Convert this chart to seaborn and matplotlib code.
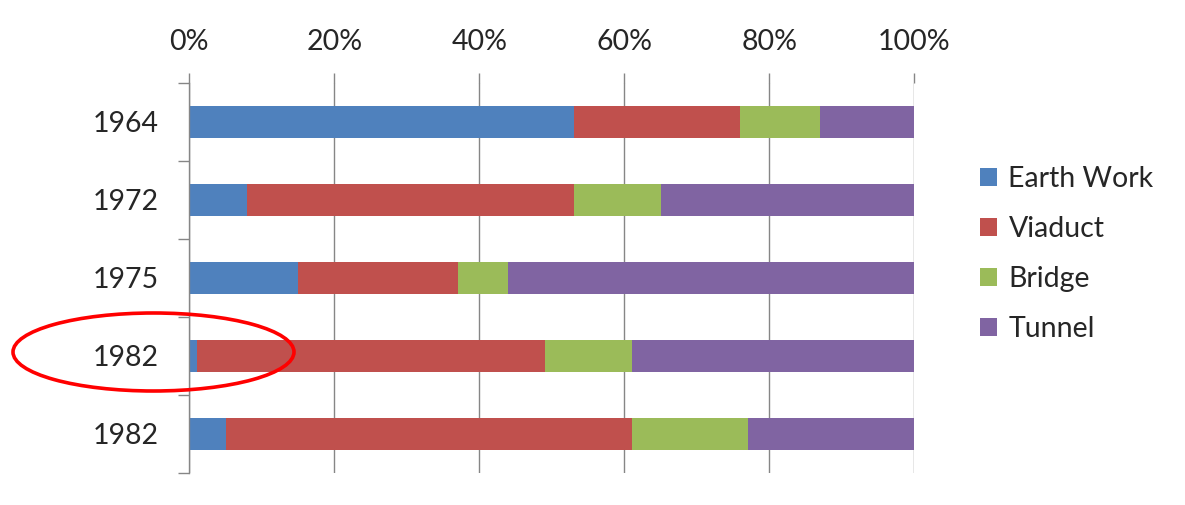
import matplotlib
matplotlib.use("Agg")
import matplotlib.pyplot as plt
from matplotlib.patches import Ellipse, Patch
from matplotlib.ticker import PercentFormatter, FixedLocator
import seaborn as sns
import pandas as pd
import numpy as np

# ---- data ----
year_keys = ["1964", "1972", "1975", "1982a", "1982b"]
year_labels = ["1964", "1972", "1975", "1982", "1982"]
series_names = ["Earth Work", "Viaduct", "Bridge", "Tunnel"]
earth_work = [53, 8, 15, 1, 5]
viaduct = [23, 45, 22, 48, 56]
bridge = [11, 12, 7, 12, 16]
tunnel = [13, 35, 56, 39, 23]
x_ticks = [0, 20, 40, 60, 80, 100]

colors = ["#4F81BD", "#C0504D", "#9BBB59", "#8064A2"]

sns.set_style("white")
plt.rcParams["font.family"] = ["Lato", "DejaVu Sans"]
FS = 20.5

df = pd.DataFrame({"year": year_keys, "Earth Work": earth_work, "Viaduct": viaduct,
                   "Bridge": bridge, "Tunnel": tunnel})
cum = df[series_names].cumsum(axis=1)

fig = plt.figure(figsize=(11.85, 5.05), dpi=100)
ax = fig.add_axes([189.3 / 1185, 1 - 473 / 505, 725 / 1185, 390 / 505])

for name, col in reversed(list(zip(series_names, colors))):
    sns.barplot(x=cum[name], y=df["year"], order=year_keys, orient="h", color=col,
                width=0.4, linewidth=0, edgecolor="none", saturation=1, ax=ax)

ax.set_xlim(0, 100)
ax.set_ylim(4.5, -0.5)
ax.set_xlabel("")
ax.set_ylabel("")
ax.set_axisbelow(True)

# x axis at top
ax.xaxis.tick_top()
ax.set_xticks(x_ticks)
ax.xaxis.set_major_formatter(PercentFormatter(100, decimals=0))
ax.tick_params(axis="x", which="major", top=True, bottom=False, length=7, width=1,
               color="#868686", labelsize=FS, pad=13)
ax.grid(axis="x", color="#868686", linewidth=1)
ax.grid(axis="y", visible=False)

# y axis
ax.set_yticks(range(len(year_keys)))
ax.set_yticklabels(year_labels)
ax.yaxis.set_minor_locator(FixedLocator(np.arange(-0.5, len(year_keys), 1.0)))
ax.tick_params(axis="y", which="major", left=True, length=0, labelsize=FS, pad=22)
ax.tick_params(axis="y", which="minor", left=True, length=8, width=1, color="#868686")

for s in ["top", "right", "bottom"]:
    ax.spines[s].set_visible(False)
ax.spines["left"].set_color("#868686")
ax.spines["left"].set_linewidth(1)

# legend
handles = [Patch(facecolor=c, edgecolor="none", label=n) for n, c in zip(series_names, colors)]
fig.legend(handles=handles, loc="center left", bbox_to_anchor=(980 / 1185, 1 - 254 / 505),
           frameon=False, fontsize=FS, handlelength=0.6, handleheight=0.6,
           handletextpad=0.4, labelspacing=0.84, borderpad=0, borderaxespad=0)

# red ellipse annotation
fig.add_artist(Ellipse((153.5 / 1185, 1 - 352 / 505), 281 / 1185, 78 / 505,
                       transform=fig.transFigure, fill=False, edgecolor="red",
                       linewidth=2.6, clip_on=False))

fig.savefig("out.png", dpi=100)
